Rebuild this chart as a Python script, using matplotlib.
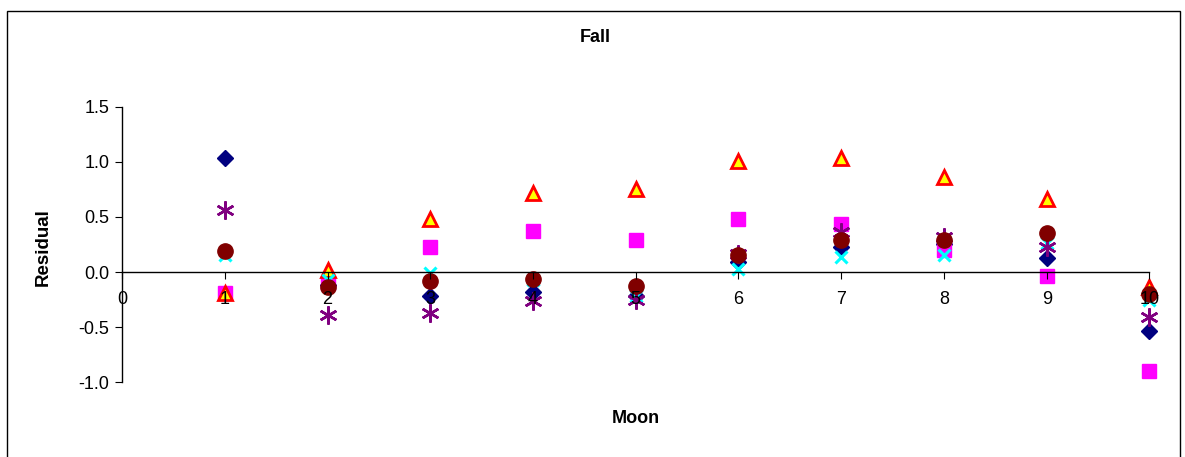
import matplotlib
matplotlib.use('Agg')
import matplotlib.pyplot as plt
from matplotlib.patches import Rectangle

plt.rcParams['font.family'] = ['Liberation Sans', 'DejaVu Sans']

# Moon number and residuals for each series
moon = [1, 2, 3, 4, 5, 6, 7, 8, 9, 10]
diamond = [1.04, -0.12, -0.22, -0.18, -0.22, 0.09, 0.23, 0.25, 0.13, -0.54]
square = [-0.19, -0.10, 0.23, 0.37, 0.29, 0.48, 0.44, 0.20, -0.04, -0.90]
triangle = [-0.19, 0.02, 0.48, 0.72, 0.75, 1.01, 1.04, 0.86, 0.66, -0.14]
cross = [0.15, -0.07, -0.01, -0.07, -0.22, 0.03, 0.14, 0.15, 0.26, -0.25]
asterisk = [0.56, -0.39, -0.37, -0.26, -0.25, 0.16, 0.36, 0.32, 0.23, -0.41]
circle = [0.19, -0.14, -0.08, -0.06, -0.13, 0.15, 0.29, 0.29, 0.35, -0.20]

fig = plt.figure(figsize=(11.85, 4.57), dpi=100)
ax = fig.add_axes([0.103, 0.164, 0.867, 0.602])

ax.plot(moon, diamond, linestyle='none', marker='D', color='#000080', markersize=8,
        clip_on=False)
ax.plot(moon, square, linestyle='none', marker='s', color='#FF00FF', markersize=10,
        clip_on=False)
ax.plot(moon, triangle, linestyle='none', marker='^', markerfacecolor='#FFFF00',
        markeredgecolor='#FF0000', markeredgewidth=2, markersize=10, clip_on=False)
ax.plot(moon, cross, linestyle='none', marker='x', color='#00FFFF', markersize=9,
        markeredgewidth=2.2, clip_on=False)
ax.plot(moon, asterisk, linestyle='none', marker=(6, 2, 0), color='#800080',
        markersize=13, markeredgewidth=1.8, clip_on=False)
ax.plot(moon, circle, linestyle='none', marker='o', color='#800000', markersize=11,
        clip_on=False)

ax.set_xlim(0, 10)
ax.set_ylim(-1.0, 1.5)
ax.set_xticks(range(0, 11))
ax.set_yticks([-1.0, -0.5, 0.0, 0.5, 1.0, 1.5])
ax.set_yticklabels(['-1.0', '-0.5', '0.0', '0.5', '1.0', '1.5'])
ax.set_axisbelow(False)

ax.spines['top'].set_visible(False)
ax.spines['right'].set_visible(False)
ax.spines['bottom'].set_position(('data', 0))
ax.spines['left'].set_position(('data', 0))
for s in ['bottom', 'left']:
    ax.spines[s].set_color('#000000')
    ax.spines[s].set_linewidth(1)
ax.tick_params(axis='x', direction='out', length=5, pad=9, labelsize=13)
ax.tick_params(axis='y', direction='out', length=5, pad=4, labelsize=13)

ax.set_xlabel('Moon', fontsize=13, fontweight='bold', labelpad=0)
ax.xaxis.set_label_coords(0.5, -0.10)
ax.set_ylabel('Residual', fontsize=13.5, fontweight='bold')
ax.yaxis.set_label_coords(-0.068, 0.49)
fig.text(0.502, 0.919, 'Fall', ha='center', va='center', fontsize=13, fontweight='bold')

# chart area border
fig.patches.append(Rectangle((7 / 1185, -0.01), 1173 / 1185, 1 - 11 / 457 + 0.01,
                             transform=fig.transFigure, fill=False,
                             edgecolor='#000000', linewidth=1))

fig.savefig('out.png', dpi=100)
